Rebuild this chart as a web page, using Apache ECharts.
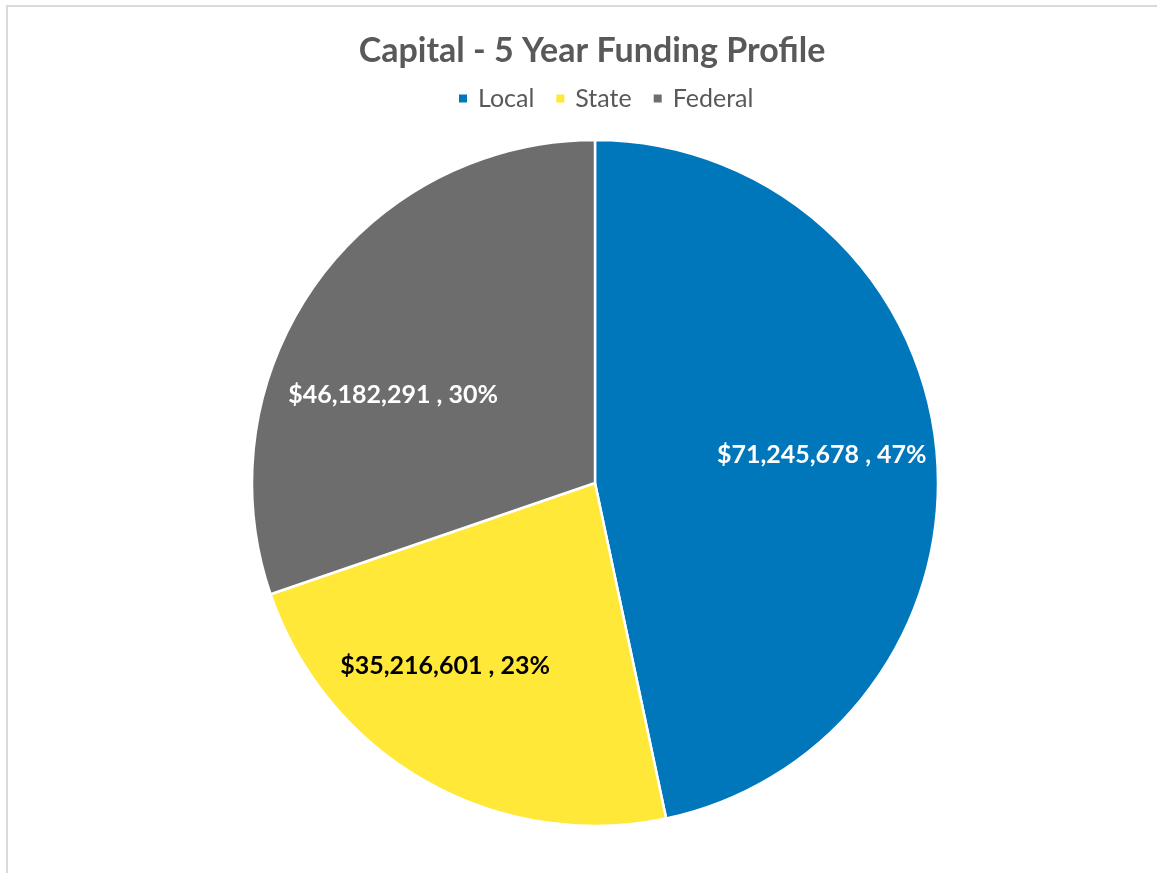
<!DOCTYPE html>
<html>
<head>
<meta charset="utf-8">
<script src="https://cdn.jsdelivr.net/npm/echarts@6/dist/echarts.min.js"></script>
<style>
    html, body { margin: 0; padding: 0; background: #fff; }
    #chart { width: 1157px; height: 873px; }
    #frame {
        position: absolute; left: 6px; top: 5px; width: 1200px; height: 900px;
        border-left: 2px solid #d9d9d9; border-top: 2px solid #d9d9d9;
        pointer-events: none;
    }
</style>
</head>
<body>
<div id="chart"></div>
<div id="frame"></div>
<script>
const categories = ['Local', 'State', 'Federal'];
const amounts = [71245678, 35216601, 46182291];
const colors = ['#0077BB', '#FFE838', '#6C6D6C'];
const labelColors = ['#ffffff', '#000000', '#ffffff'];
// small nudges so labels sit where the original put them
const labelOffsets = [[-3, -4], [-36, -18], [-14, 46]];

const total = amounts.reduce((s, v) => s + v, 0);
const fmtMoney = v => '$' + v.toLocaleString('en-US');

const chart = echarts.init(document.getElementById('chart'));

const sliceData = categories.map((name, i) => ({
    name,
    value: amounts[i],
    itemStyle: { color: colors[i] },
}));

const labelData = categories.map((name, i) => ({
    name,
    value: amounts[i],
    label: { color: labelColors[i], offset: labelOffsets[i] },
}));

const option = {
    backgroundColor: '#fff',
    animation: false,
    title: {
        text: 'Capital - 5 Year Funding Profile',
        left: 587,
        top: 29,
        textAlign: 'center',
        textStyle: {
            fontFamily: 'Lato',
            fontWeight: 'bold',
            fontSize: 34,
            color: '#595959',
        },
    },
    legend: {
        top: 81,
        left: 452,
        icon: 'rect',
        itemWidth: 10,
        itemHeight: 10,
        itemGap: 20,
        data: categories,
        textStyle: {
            fontFamily: 'Lato',
            fontSize: 25,
            color: '#595959',
            padding: [0, 0, 0, 5],
        },
    },
    series: [
        {
            name: 'Funding',
            type: 'pie',
            center: [595, 483],
            radius: [0, 343],
            startAngle: 90,
            clockwise: true,
            silent: true,
            label: { show: false },
            labelLine: { show: false },
            itemStyle: {
                borderColor: '#ffffff',
                borderWidth: 2.5,
            },
            data: sliceData,
        },
        {
            name: 'Labels',
            type: 'pie',
            center: [595, 483],
            radius: [113, 343],
            startAngle: 90,
            clockwise: true,
            silent: true,
            itemStyle: { color: 'transparent' },
            labelLine: { show: false },
            label: {
                show: true,
                position: 'inside',
                fontFamily: 'Lato',
                fontWeight: 'bold',
                fontSize: 25,
                formatter: p => `${fmtMoney(p.value)} , ${Math.round(p.value / total * 100)}%`,
            },
            data: labelData,
        },
    ],
};

chart.setOption(option);
</script>
</body>
</html>
